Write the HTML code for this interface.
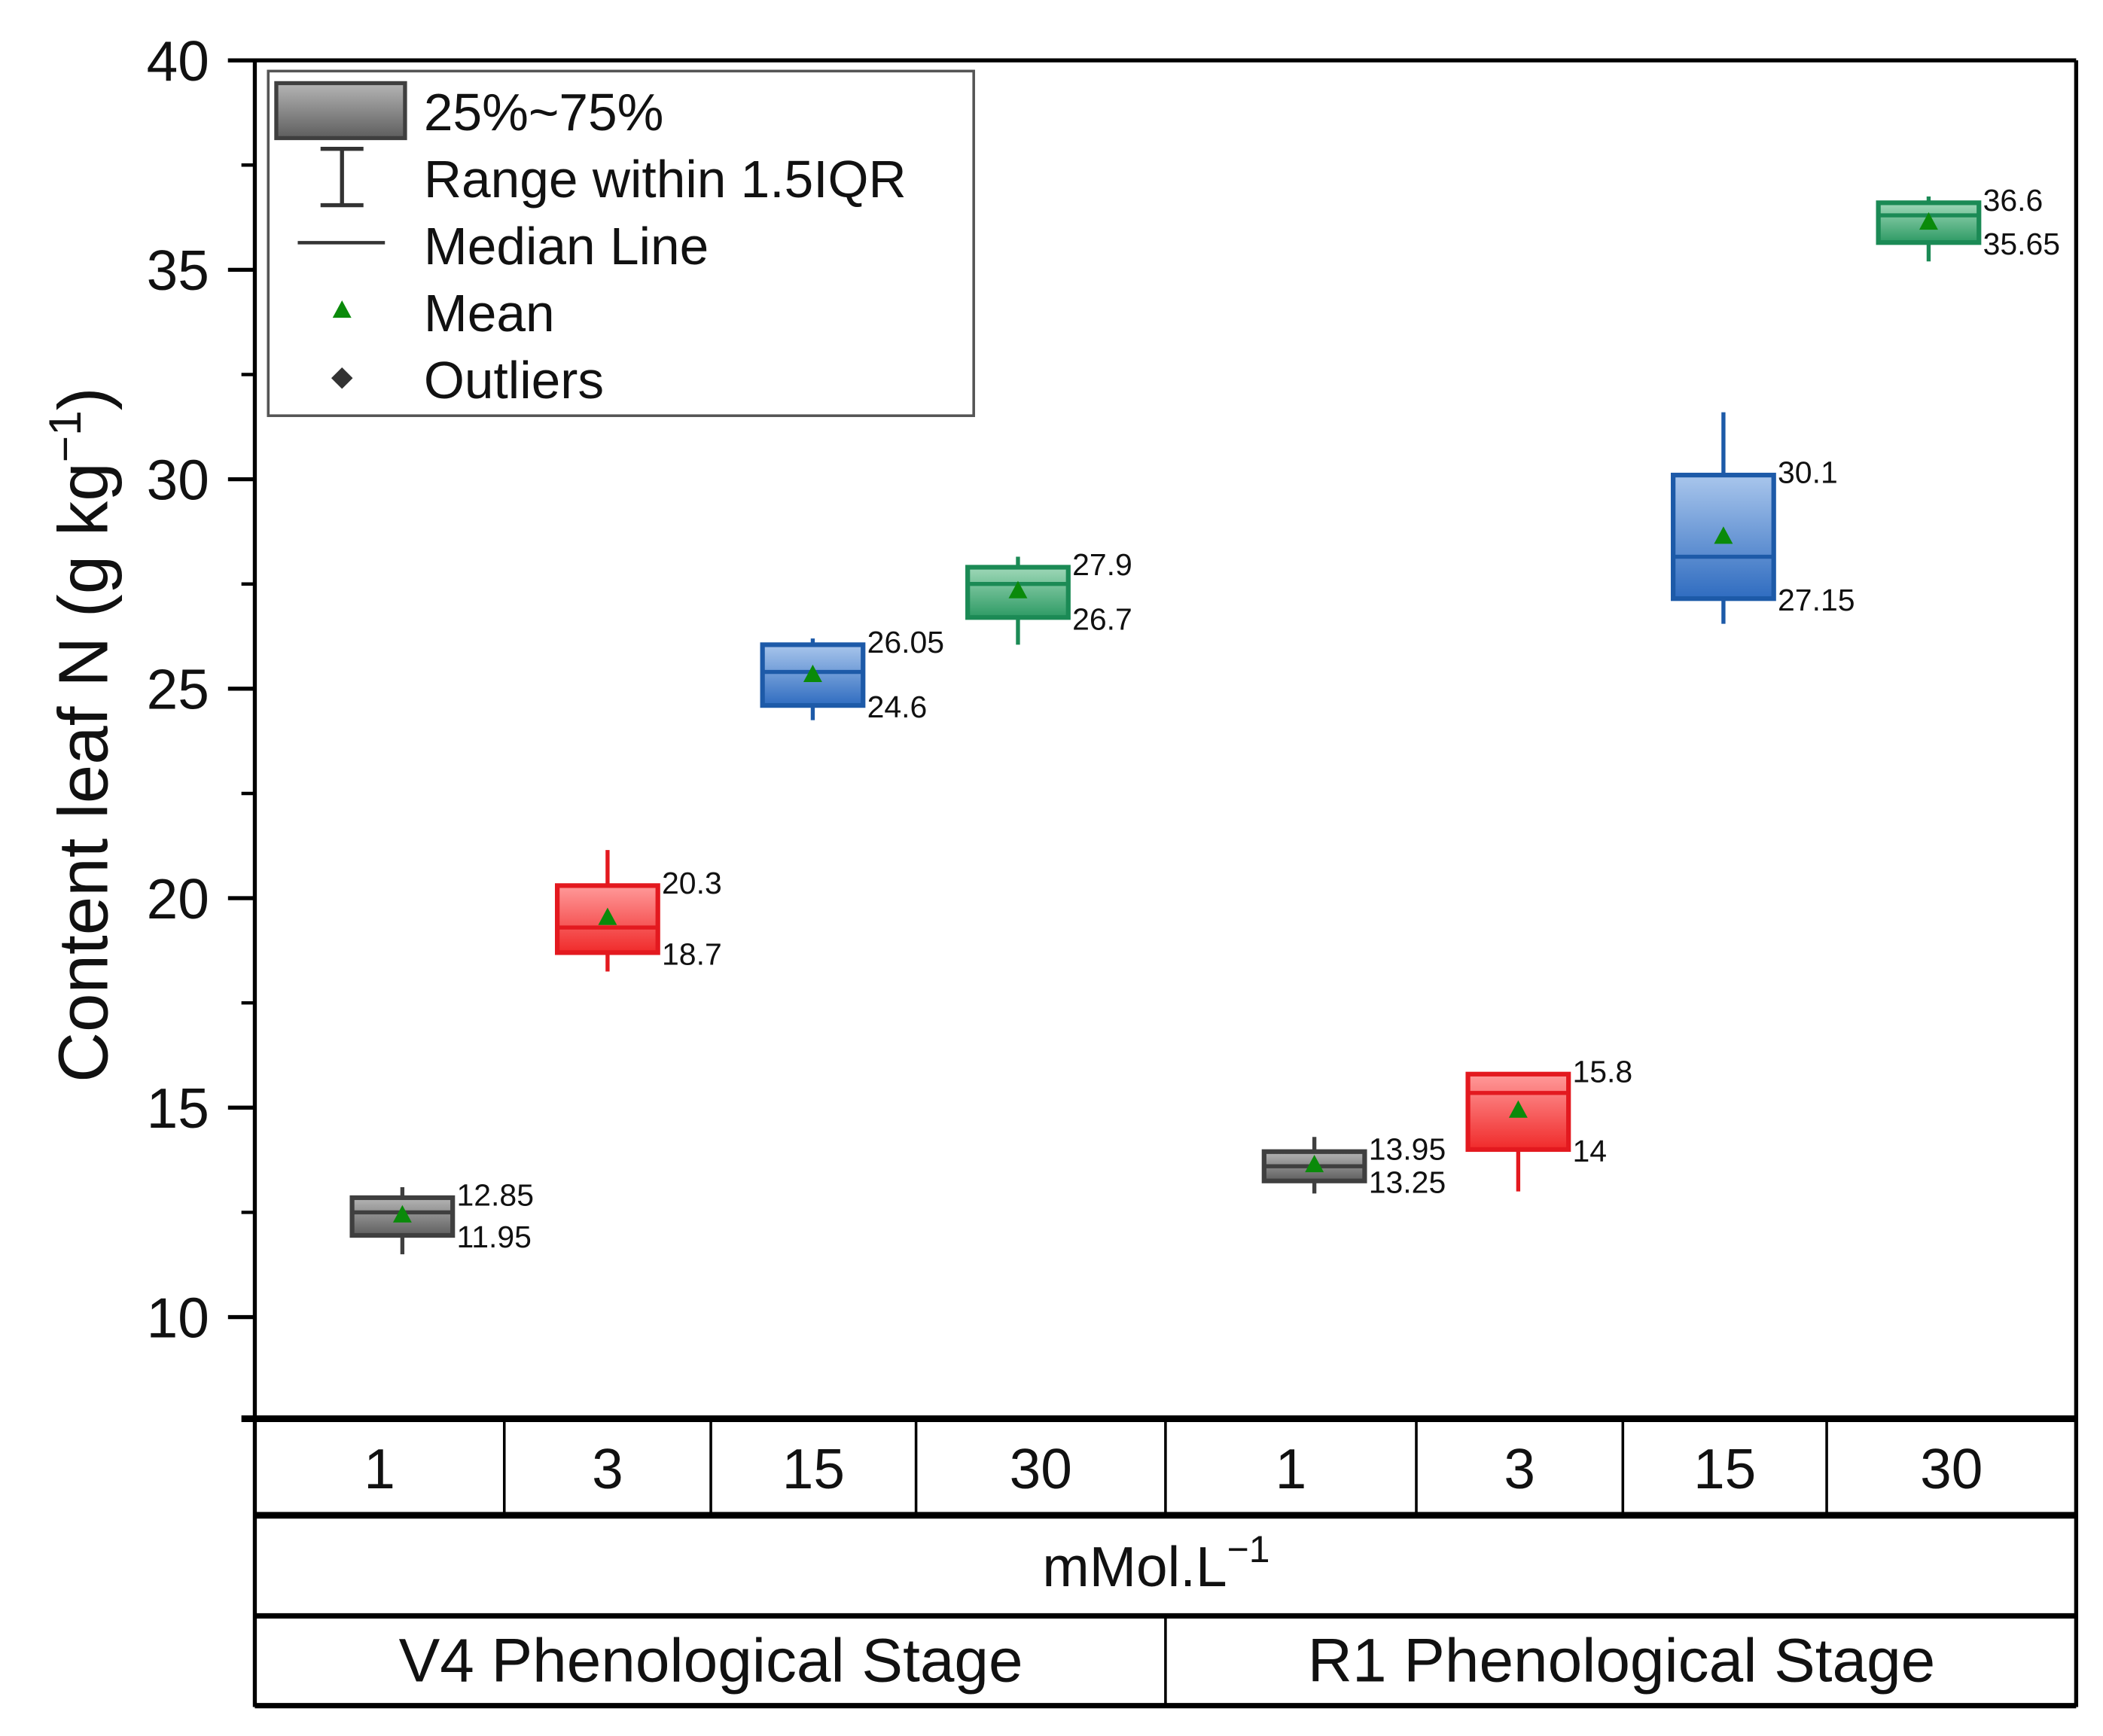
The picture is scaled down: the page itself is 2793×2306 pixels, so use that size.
<!DOCTYPE html>
<html><head><meta charset="utf-8"><style>
html,body{margin:0;padding:0;background:#fff}
svg{display:block}
text{font-family:"Liberation Sans",Arial,sans-serif;fill:#111}
</style></head><body>
<svg id="chart" xmlns="http://www.w3.org/2000/svg" width="2793" height="2306" viewBox="0 0 1568 1294.6">
<defs>
<linearGradient id="gGray" x1="0" y1="0" x2="0" y2="1"><stop offset="0" stop-color="#b5b5b5"/><stop offset="1" stop-color="#5e5e5e"/></linearGradient>
<linearGradient id="gRed" x1="0" y1="0" x2="0" y2="1"><stop offset="0" stop-color="#ff9a9a"/><stop offset="1" stop-color="#f02a2a"/></linearGradient>
<linearGradient id="gBlue" x1="0" y1="0" x2="0" y2="1"><stop offset="0" stop-color="#a9c6ec"/><stop offset="1" stop-color="#2f6cc0"/></linearGradient>
<linearGradient id="gGreen" x1="0" y1="0" x2="0" y2="1"><stop offset="0" stop-color="#9fd8b8"/><stop offset="1" stop-color="#2d9a64"/></linearGradient>
</defs>
<g id="plot"></g>
</svg>
<script>
const categories = ["1","3","15","30","1","3","15","30"];
const q1 = [11.95,18.7,24.6,26.7,13.25,14,27.15,35.65];
const q3 = [12.85,20.3,26.05,27.9,13.95,15.8,30.1,36.6];
const medians = [12.5,19.3,25.4,27.5,13.6,15.35,28.15,36.3];
const means = [12.45,19.55,25.35,27.35,13.65,14.95,28.65,36.15];
const whiskLo = [11.5,18.25,24.25,26.05,12.95,13.0,26.55,35.2];
const whiskHi = [13.1,21.15,26.2,28.15,14.3,15.8,31.6,36.75];
const q1Labels = ["11.95","18.7","24.6","26.7","13.25","14","27.15","35.65"];
const q3Labels = ["12.85","20.3","26.05","27.9","13.95","15.8","30.1","36.6"];
const yTicks = [10,15,20,25,30,35,40];
const stages = ["V4 Phenological Stage","R1 Phenological Stage"];

const NS="http://www.w3.org/2000/svg";
const g=document.getElementById('plot');
const L=190,R=1548,T=45,B=1058;
const yMax=40;
function y(v){return T+(yMax-v)*31.24;}
const centers=[300,453,606,759,980,1132,1285,1438];
function x(i){return centers[i];}
const fills=["url(#gGray)","url(#gRed)","url(#gBlue)","url(#gGreen)"];
const strokes=["#3f3f3f","#e3191f","#1d5aa8","#1b8a55"];
function el(tag,attrs,parent){const e=document.createElementNS(NS,tag);for(const k in attrs)e.setAttribute(k,attrs[k]);(parent||g).appendChild(e);return e;}
function txt(s,attrs,parent){const e=el('text',attrs,parent);e.textContent=s;return e;}

let e;
e=el('line',{x1:170,y1:T,x2:R,y2:T,stroke:'#000','stroke-width':3});


e=el('line',{x1:L,y1:T,x2:L,y2:B,stroke:'#000','stroke-width':3});


e=el('line',{x1:R,y1:T,x2:R,y2:1273,stroke:'#000','stroke-width':3});


e=el('line',{x1:180,y1:B,x2:R,y2:B,stroke:'#000','stroke-width':5});



yTicks.forEach(v=>{
  const t=el('line',{x1:170,y1:y(v),x2:L,y2:y(v),stroke:'#000','stroke-width':3});
  
  
  const l=txt(String(v),{x:156,y:y(v)+15,'font-size':42,'text-anchor':'end'});
  
  
  if(v>10){const m=el('line',{x1:180,y1:y(v-2.5),x2:L,y2:y(v-2.5),stroke:'#000','stroke-width':2.5});
  
  }
});
const yt=txt('',{x:0,y:0,'font-size':52,'text-anchor':'middle',transform:'translate(80,548) rotate(-90)'});
yt.innerHTML='Content leaf N (g kg<tspan dy="-20" font-size="34">−1</tspan><tspan dy="20">)</tspan>';



const bw=75;
categories.forEach((c,i)=>{
  const k=i%4, cx=x(i);
  const grp=el('g',{});
  
  
  el('line',{x1:cx,y1:y(whiskHi[i]),x2:cx,y2:y(whiskLo[i]),stroke:strokes[k],'stroke-width':3},grp);
  el('rect',{x:cx-bw/2,y:y(q3[i]),width:bw,height:y(q1[i])-y(q3[i]),fill:fills[k],stroke:strokes[k],'stroke-width':3.5},grp);
  el('line',{x1:cx-bw/2,y1:y(medians[i]),x2:cx+bw/2,y2:y(medians[i]),stroke:strokes[k],'stroke-width':3},grp);
  const m=y(means[i]);
  el('polygon',{points:`${cx-7},${m+6} ${cx+7},${m+6} ${cx},${m-7}`,fill:'#0a8a0a'},grp);
  const a=txt(q3Labels[i],{x:cx+bw/2+3,y:y(q3[i])+6,'font-size':23},grp);
  
  
  const b=txt(q1Labels[i],{x:cx+bw/2+3,y:y(q1[i])+9,'font-size':23},grp);
  
  
});

[[1130,5],[1205,4],[1272,4]].forEach(([yy,w])=>{
  const l=el('line',{x1:L,y1:yy,x2:R,y2:yy,stroke:'#000','stroke-width':w});
  
  
});
el('line',{x1:L,y1:B,x2:L,y2:1273,stroke:'#000','stroke-width':3});
const cols=[190,376,530,683,869,1056,1210,1362,1548];
cols.slice(1,-1).forEach(cxv=>{
  const l=el('line',{x1:cxv,y1:B,x2:cxv,y2:1130,stroke:'#000','stroke-width':2});
  
  
});
el('line',{x1:869,y1:1205,x2:869,y2:1272,stroke:'#000','stroke-width':2});
categories.forEach((c,i)=>{
  const t=txt(c,{x:(cols[i]+cols[i+1])/2,y:1110,'font-size':42,'text-anchor':'middle'});
  
  
});
const unit=txt('',{x:862,y:1183,'font-size':42,'text-anchor':'middle'});
unit.innerHTML='mMol.L<tspan dy="-18" font-size="28">−1</tspan>';


stages.forEach((s,i)=>{
  const t=txt(s,{x:i?1209:530,y:1254,'font-size':46,'text-anchor':'middle'});
  
  
});

const lg=el('g',{});


el('rect',{x:200,y:53,width:526,height:257,fill:'#fff',stroke:'#555','stroke-width':2},lg);
el('rect',{x:206,y:62,width:96,height:41,fill:'url(#gGray)',stroke:'#3f3f3f','stroke-width':3},lg);
el('line',{x1:255,y1:111,x2:255,y2:153,stroke:'#333','stroke-width':3},lg);
el('line',{x1:239,y1:111,x2:271,y2:111,stroke:'#333','stroke-width':3},lg);
el('line',{x1:239,y1:153,x2:271,y2:153,stroke:'#333','stroke-width':3},lg);
el('line',{x1:222,y1:181,x2:287,y2:181,stroke:'#333','stroke-width':2.5},lg);
el('polygon',{points:'248,237 262,237 255,224',fill:'#0a8a0a'},lg);
el('polygon',{points:'255,274 263,282 255,290 247,282',fill:'#333'},lg);
["25%~75%","Range within 1.5IQR","Median Line","Mean","Outliers"].forEach((s,i)=>{
  const t=txt(s,{x:316,y:97+i*50,'font-size':39},lg);
  
  
});
</script>
</body></html>
